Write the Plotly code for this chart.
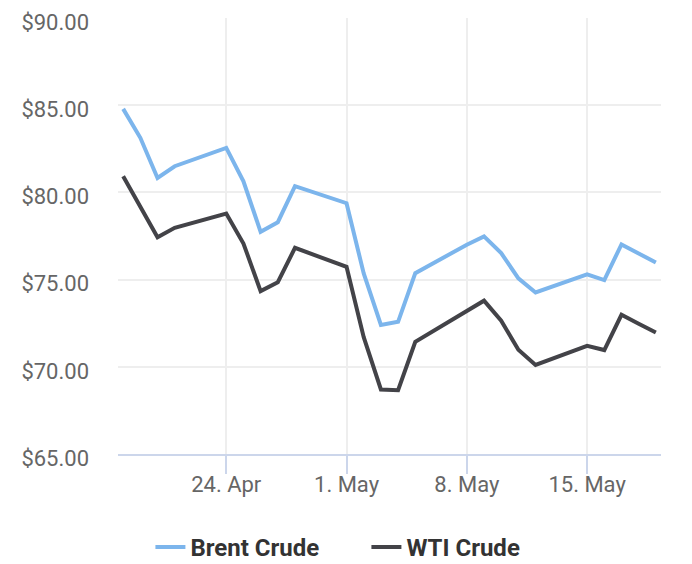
import plotly.graph_objects as go

dates = ["2023-04-18", "2023-04-19", "2023-04-20", "2023-04-21",
         "2023-04-24", "2023-04-25", "2023-04-26", "2023-04-27", "2023-04-28",
         "2023-05-01", "2023-05-02", "2023-05-03", "2023-05-04", "2023-05-05",
         "2023-05-08", "2023-05-09", "2023-05-10", "2023-05-11", "2023-05-12",
         "2023-05-15", "2023-05-16", "2023-05-17", "2023-05-18", "2023-05-19"]

brent = [84.79, 83.13, 80.83, 81.50,
         82.55, 80.64, 77.74, 78.29, 80.36,
         79.38, 75.35, 72.40, 72.58, 75.37,
         77.00, 77.48, 76.52, 75.07, 74.26,
         75.30, 74.97, 77.02, 76.50, 75.98]

wti = [80.93, 79.21, 77.43, 77.97,
       78.79, 77.07, 74.34, 74.85, 76.82,
       75.73, 71.70, 68.70, 68.66, 71.43,
       73.21, 73.79, 72.64, 70.98, 70.11,
       71.20, 70.96, 72.98, 72.47, 71.97]

tick_dates = ["2023-04-24", "2023-05-01", "2023-05-08", "2023-05-15"]
tick_labels = ["24. Apr", "1. May", "8. May", "15. May"]

y_ticks = [65, 70, 75, 80, 85, 90]
y_labels = ["$65.00", "$70.00", "$75.00", "$80.00", "$85.00", "$90.00"]

fig = go.Figure()
fig.add_trace(go.Scatter(x=dates, y=brent, mode="lines", name="Brent Crude",
                         line=dict(color="#7cb5ec", width=4)))
fig.add_trace(go.Scatter(x=dates, y=wti, mode="lines", name="WTI Crude",
                         line=dict(color="#434348", width=4)))

fig.update_layout(
    width=684, height=556,
    margin=dict(l=110, r=31, t=10, b=110),
    paper_bgcolor="white", plot_bgcolor="white",
    font=dict(family="Roboto", size=22, color="#666666"),
    showlegend=True,
    legend=dict(orientation="h", xref="container", yref="container",
                x=0.524, xanchor="center", y=0.03, yanchor="middle",
                font=dict(family="Roboto", size=24, color="#333333", weight="bold"),
                itemwidth=30, tracegroupgap=0,
                entrywidth=171, entrywidthmode="pixels"),
    xaxis=dict(
        range=["2023-04-17 16:48", "2023-05-19 07:12"],
        tickvals=tick_dates, ticktext=tick_labels,
        showgrid=True, gridcolor="#eeeeee", gridwidth=1.5,
        showline=True, linecolor="#ccd6eb", linewidth=2,
        ticks="outside", ticklen=18, tickwidth=2, tickcolor="#ccd6eb",
        ticklabelstandoff=-8, automargin=False,
        tickfont=dict(family="Roboto", size=22, color="#666666"),
        zeroline=False,
    ),
    yaxis=dict(
        range=[65, 90],
        tickvals=y_ticks, ticktext=y_labels,
        showgrid=True, gridcolor="#eeeeee", gridwidth=1.5,
        showline=False, zeroline=False, ticks="",
        ticklabelstandoff=28, ticklabelshift=4,
        ticklabeloverflow="allow", automargin=False,
        tickfont=dict(family="Roboto", size=22, color="#666666"),
    ),
)

fig.write_html("out.html")
